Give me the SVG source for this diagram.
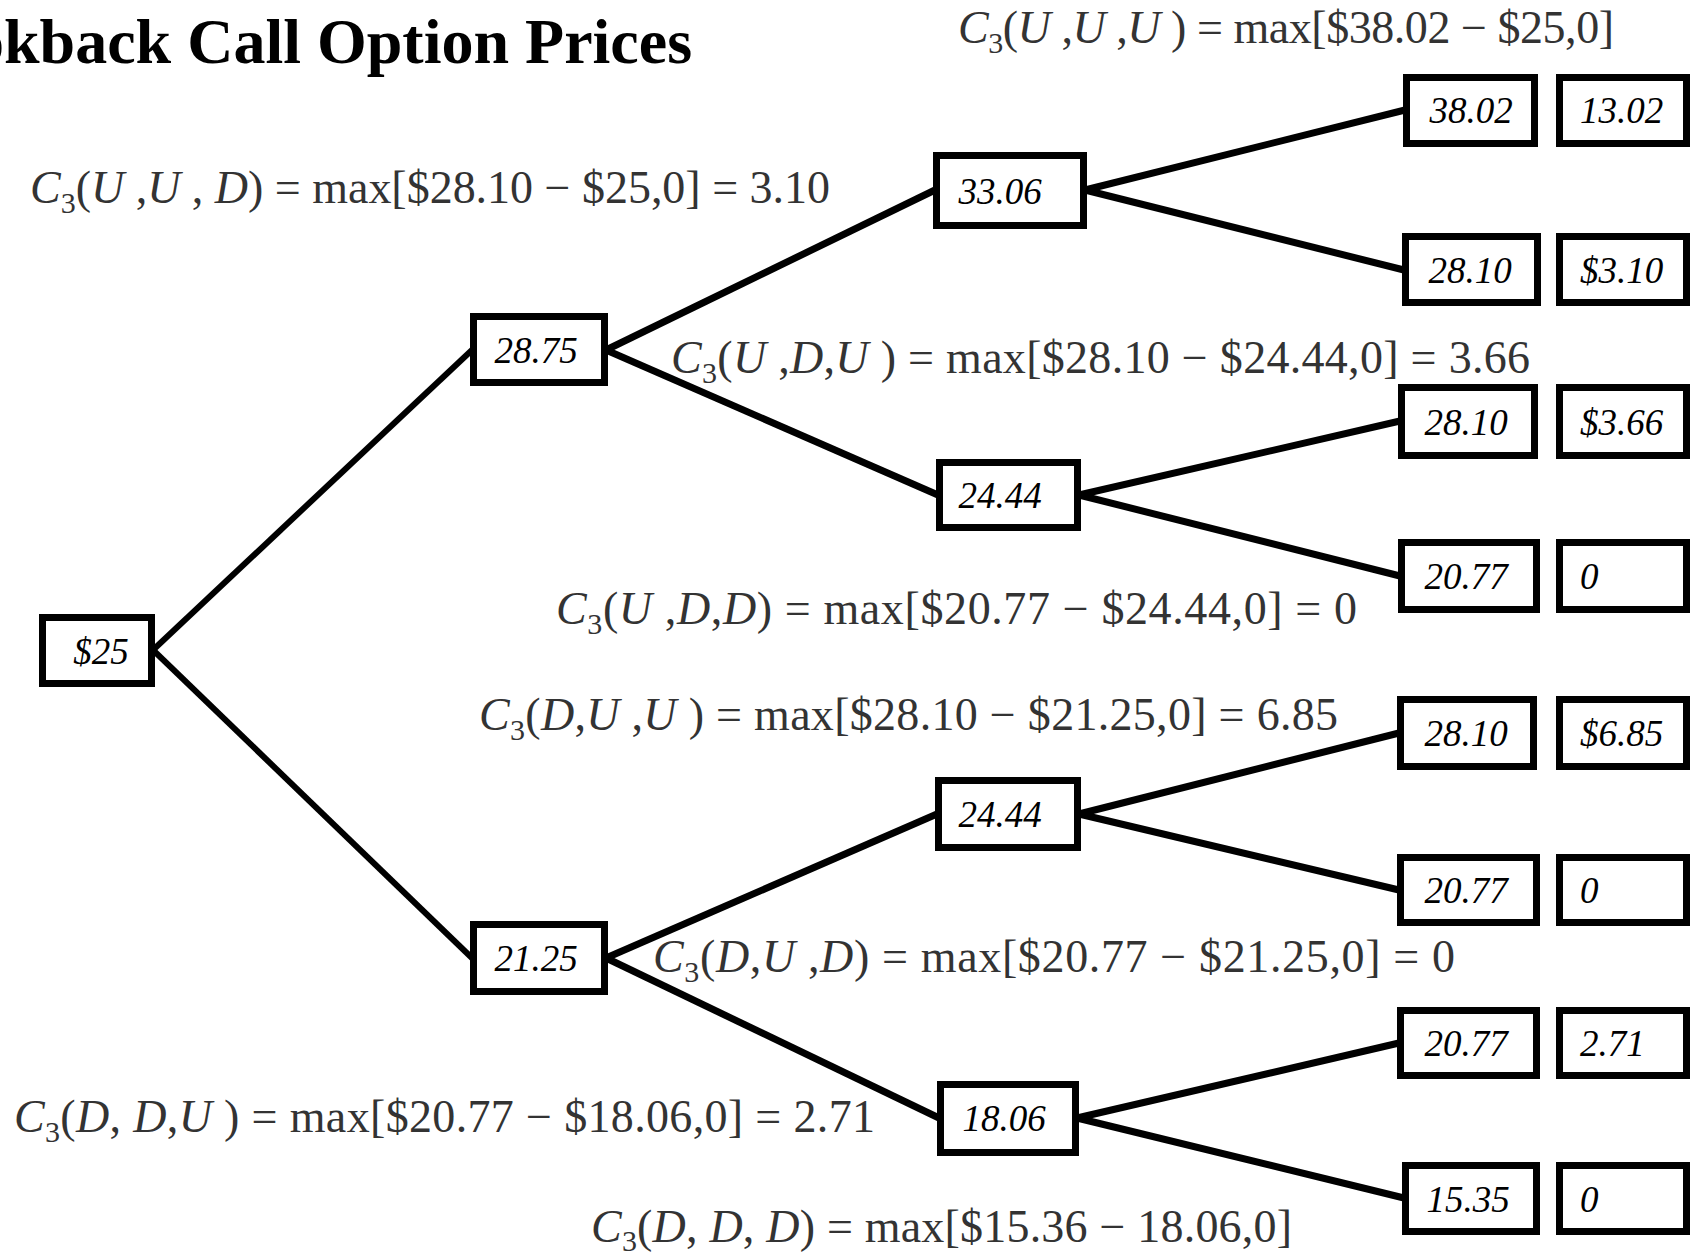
<svg xmlns="http://www.w3.org/2000/svg" width="1697" height="1254" viewBox="0 0 1697 1254">
<style>
.bg{fill:#fff}
.box{fill:#fff;stroke:#000;stroke-width:7}
.n{font-family:"Liberation Serif","Times New Roman",serif;font-style:italic;font-size:37px;fill:#000;text-anchor:middle}
.l{text-anchor:start}
.f{font-family:"Liberation Serif","Times New Roman",serif;font-size:46px;fill:#333}
.i{font-style:italic}
.s{font-size:30px}
.title{font-family:"Liberation Serif","Times New Roman",serif;font-weight:bold;font-size:64px;fill:#000}
.c{stroke:#000;stroke-width:7;fill:none;stroke-linecap:butt}
.c1{stroke-width:6}
</style>
<rect class="bg" x="0" y="0" width="1697" height="1254"/>
<text class="title" x="-28" y="63">okback Call Option Prices</text>

<g id="connectors">
<line class="c c1" x1="153" y1="650" x2="472" y2="350"/>
<line class="c c1" x1="153" y1="650" x2="472" y2="958"/>
<line class="c" x1="606" y1="350" x2="935" y2="190"/>
<line class="c" x1="606" y1="350" x2="938" y2="495"/>
<line class="c" x1="606" y1="958" x2="937" y2="814"/>
<line class="c" x1="606" y1="958" x2="939" y2="1118"/>
<line class="c" x1="1085" y1="190" x2="1405" y2="110"/>
<line class="c" x1="1085" y1="190" x2="1404" y2="270"/>
<line class="c" x1="1079" y1="495" x2="1400" y2="421"/>
<line class="c" x1="1079" y1="495" x2="1400" y2="576"/>
<line class="c" x1="1079" y1="814" x2="1399" y2="733"/>
<line class="c" x1="1079" y1="814" x2="1399" y2="890"/>
<line class="c" x1="1077" y1="1118" x2="1399" y2="1043"/>
<line class="c" x1="1077" y1="1118" x2="1404" y2="1198"/>
</g>

<g id="n0"><rect class="box" x="42.5" y="617.5" width="109" height="66"/><text class="n" x="101" y="664">$25</text></g>
<g id="n1u"><rect class="box" x="473.5" y="316.5" width="131" height="66"/><text class="n" x="536" y="363">28.75</text></g>
<g id="n1d"><rect class="box" x="473.5" y="924.5" width="131" height="67"/><text class="n" x="536" y="971">21.25</text></g>
<g id="n2uu"><rect class="box" x="936.5" y="155.5" width="147" height="70"/><text class="n" x="1000" y="204">33.06</text></g>
<g id="n2ud"><rect class="box" x="939.5" y="462.5" width="138" height="65"/><text class="n" x="1000" y="508">24.44</text></g>
<g id="n2du"><rect class="box" x="938.5" y="780.5" width="139" height="67"/><text class="n" x="1000" y="827">24.44</text></g>
<g id="n2dd"><rect class="box" x="940.5" y="1084.5" width="135" height="68"/><text class="n" x="1004" y="1131">18.06</text></g>

<g id="l1"><rect class="box" x="1406.5" y="77.5" width="128" height="66"/><text class="n" x="1471" y="123">38.02</text></g>
<g id="p1"><rect class="box" x="1559.5" y="77.5" width="127" height="66"/><text class="n l" x="1580" y="123">13.02</text></g>
<g id="l2"><rect class="box" x="1405.5" y="236.5" width="132" height="66"/><text class="n" x="1470" y="283">28.10</text></g>
<g id="p2"><rect class="box" x="1559.5" y="236.5" width="127" height="66"/><text class="n l" x="1580" y="283">$3.10</text></g>
<g id="l3"><rect class="box" x="1401.5" y="387.5" width="133" height="68"/><text class="n" x="1466" y="435">28.10</text></g>
<g id="p3"><rect class="box" x="1559.5" y="387.5" width="127" height="68"/><text class="n l" x="1580" y="435">$3.66</text></g>
<g id="l4"><rect class="box" x="1401.5" y="542.5" width="135" height="67"/><text class="n" x="1466" y="589">20.77</text></g>
<g id="p4"><rect class="box" x="1559.5" y="542.5" width="127" height="67"/><text class="n l" x="1580" y="589">0</text></g>
<g id="l5"><rect class="box" x="1400.5" y="699.5" width="133" height="67"/><text class="n" x="1466" y="746">28.10</text></g>
<g id="p5"><rect class="box" x="1559.5" y="699.5" width="127" height="67"/><text class="n l" x="1580" y="746">$6.85</text></g>
<g id="l6"><rect class="box" x="1400.5" y="857.5" width="136" height="65"/><text class="n" x="1466" y="903">20.77</text></g>
<g id="p6"><rect class="box" x="1559.5" y="857.5" width="127" height="65"/><text class="n l" x="1580" y="903">0</text></g>
<g id="l7"><rect class="box" x="1400.5" y="1010.5" width="136" height="65"/><text class="n" x="1466" y="1056">20.77</text></g>
<g id="p7"><rect class="box" x="1559.5" y="1010.5" width="127" height="65"/><text class="n l" x="1580" y="1056">2.71</text></g>
<g id="l8"><rect class="box" x="1405.5" y="1165.5" width="131" height="66"/><text class="n" x="1468" y="1212">15.35</text></g>
<g id="p8"><rect class="box" x="1559.5" y="1165.5" width="127" height="66"/><text class="n l" x="1580" y="1212">0</text></g>

<g id="formulas">
<text class="f" x="958" y="43" textLength="656" lengthAdjust="spacing"><tspan class="i">C</tspan><tspan class="s" dy="10">3</tspan><tspan dy="-10">(</tspan><tspan class="i">U</tspan> ,<tspan class="i">U</tspan> ,<tspan class="i">U</tspan> ) = max[$38.02 − $25,0]</text>
<text class="f" x="30" y="203" textLength="800" lengthAdjust="spacing"><tspan class="i">C</tspan><tspan class="s" dy="10">3</tspan><tspan dy="-10">(</tspan><tspan class="i">U</tspan> ,<tspan class="i">U</tspan> , <tspan class="i">D</tspan>) = max[$28.10 − $25,0] = 3.10</text>
<text class="f" x="671" y="373" textLength="859" lengthAdjust="spacing"><tspan class="i">C</tspan><tspan class="s" dy="10">3</tspan><tspan dy="-10">(</tspan><tspan class="i">U</tspan> ,<tspan class="i">D</tspan>,<tspan class="i">U</tspan> ) = max[$28.10 − $24.44,0] = 3.66</text>
<text class="f" x="556" y="624" textLength="801" lengthAdjust="spacing"><tspan class="i">C</tspan><tspan class="s" dy="10">3</tspan><tspan dy="-10">(</tspan><tspan class="i">U</tspan> ,<tspan class="i">D</tspan>,<tspan class="i">D</tspan>) = max[$20.77 − $24.44,0] = 0</text>
<text class="f" x="479" y="730" textLength="859" lengthAdjust="spacing"><tspan class="i">C</tspan><tspan class="s" dy="10">3</tspan><tspan dy="-10">(</tspan><tspan class="i">D</tspan>,<tspan class="i">U</tspan> ,<tspan class="i">U</tspan> ) = max[$28.10 − $21.25,0] = 6.85</text>
<text class="f" x="653" y="972" textLength="802" lengthAdjust="spacing"><tspan class="i">C</tspan><tspan class="s" dy="10">3</tspan><tspan dy="-10">(</tspan><tspan class="i">D</tspan>,<tspan class="i">U</tspan> ,<tspan class="i">D</tspan>) = max[$20.77 − $21.25,0] = 0</text>
<text class="f" x="14" y="1132" textLength="861" lengthAdjust="spacing"><tspan class="i">C</tspan><tspan class="s" dy="10">3</tspan><tspan dy="-10">(</tspan><tspan class="i">D</tspan>, <tspan class="i">D</tspan>,<tspan class="i">U</tspan> ) = max[$20.77 − $18.06,0] = 2.71</text>
<text class="f" x="591" y="1242" textLength="701" lengthAdjust="spacing"><tspan class="i">C</tspan><tspan class="s" dy="9">3</tspan><tspan dy="-9">(</tspan><tspan class="i">D</tspan>, <tspan class="i">D</tspan>, <tspan class="i">D</tspan>) = max[$15.36 − 18.06,0]</text>
</g>
</svg>
